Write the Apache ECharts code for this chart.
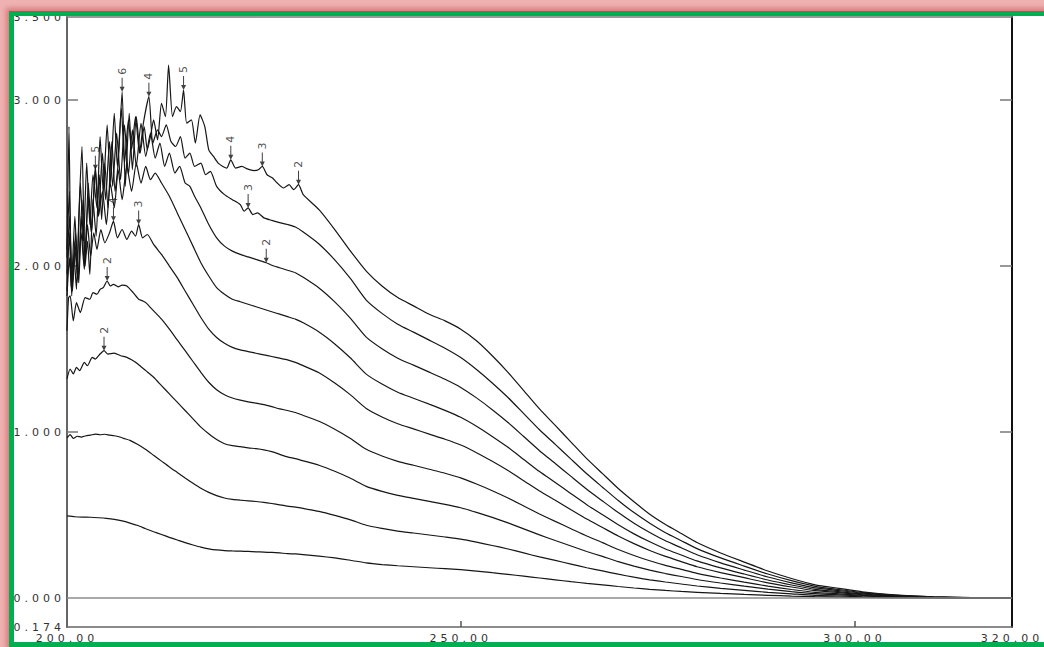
<!DOCTYPE html>
<html>
<head>
<meta charset="utf-8">
<script src="https://cdn.jsdelivr.net/npm/echarts@6.0.0/dist/echarts.min.js"></script>
<style>
  html, body { margin: 0; padding: 0; background: #ffffff; overflow: hidden; }
  #wrap { position: relative; width: 1044px; height: 647px; overflow: hidden; background: #ffffff; }
  #chart { position: absolute; left: 0; top: 0; width: 1044px; height: 647px; }
  #chart svg text { letter-spacing: 4px; }
  #frame {
    position: absolute; left: 9px; top: 11px; width: 1100px; height: 636px;
    box-sizing: border-box; border: 5px solid #00b050; pointer-events: none; z-index: 10;
    box-shadow: 0 0 5px 3px rgba(205, 95, 95, 0.65), 0 0 0 60px #efb2b2;
  }
</style>
</head>
<body>
<div id="wrap">
  <div id="chart"></div>
  <div id="frame"></div>
</div>
<script>
// ---- tick labels ----
const xTickLabels = [200, 250, 300, 320];
const xTickMarks = [250, 300];
const yTickLabels = [-0.174, 0, 1, 2, 3, 3.5];
const yTickMarks = [1, 2, 3];

// ---- shared wavelength grid for the smooth long-wavelength part (nm) ----
const wlTail = [230, 232, 234, 236, 238, 240, 242, 244, 246, 248, 250, 252, 254, 256, 258, 260, 262, 264, 266, 268, 270, 272, 274, 276, 278, 280, 283, 286, 289, 292, 295, 298, 301, 305, 310, 315, 320];

// ---- absorbance of each spectrum on wlTail ----
const tail1 = [0.262, 0.253, 0.242, 0.228, 0.212, 0.202, 0.195, 0.189, 0.183, 0.177, 0.171, 0.163, 0.153, 0.143, 0.132, 0.121, 0.110, 0.099, 0.089, 0.080, 0.070, 0.061, 0.053, 0.046, 0.040, 0.035, 0.028, 0.022, 0.017, 0.012, 0.0085, 0.006, 0.004, 0.002, 0.0008, 0.0003, 0];
const tail2 = [0.540, 0.522, 0.498, 0.471, 0.439, 0.420, 0.404, 0.392, 0.380, 0.368, 0.355, 0.337, 0.317, 0.296, 0.272, 0.248, 0.227, 0.205, 0.183, 0.164, 0.144, 0.126, 0.110, 0.097, 0.085, 0.073, 0.059, 0.047, 0.035, 0.026, 0.017, 0.0128, 0.0083, 0.0043, 0.0018, 0.0006, 0];
const tail3 = [0.827, 0.800, 0.764, 0.722, 0.673, 0.643, 0.619, 0.601, 0.583, 0.565, 0.544, 0.516, 0.486, 0.453, 0.417, 0.381, 0.347, 0.314, 0.281, 0.251, 0.220, 0.193, 0.169, 0.148, 0.130, 0.112, 0.091, 0.072, 0.054, 0.039, 0.027, 0.0196, 0.0127, 0.0066, 0.0027, 0.0009, 0];
const tail4 = [1.100, 1.065, 1.017, 0.961, 0.896, 0.856, 0.824, 0.800, 0.776, 0.752, 0.724, 0.687, 0.647, 0.603, 0.555, 0.507, 0.462, 0.418, 0.374, 0.334, 0.293, 0.257, 0.225, 0.197, 0.173, 0.149, 0.121, 0.096, 0.072, 0.052, 0.035, 0.026, 0.017, 0.0088, 0.0036, 0.0012, 0];
const tail5 = [1.400, 1.357, 1.295, 1.224, 1.142, 1.091, 1.050, 1.019, 0.988, 0.957, 0.922, 0.876, 0.824, 0.768, 0.707, 0.645, 0.589, 0.532, 0.476, 0.425, 0.374, 0.328, 0.287, 0.251, 0.220, 0.189, 0.154, 0.123, 0.092, 0.067, 0.045, 0.033, 0.0215, 0.0113, 0.0046, 0.0015, 0];
const tail6 = [1.658, 1.603, 1.531, 1.446, 1.349, 1.289, 1.240, 1.204, 1.168, 1.131, 1.089, 1.035, 0.974, 0.908, 0.835, 0.762, 0.696, 0.629, 0.563, 0.502, 0.442, 0.387, 0.339, 0.296, 0.260, 0.224, 0.182, 0.145, 0.109, 0.079, 0.053, 0.039, 0.0254, 0.0133, 0.0054, 0.0018, 0];
const tail7 = [1.932, 1.868, 1.784, 1.685, 1.572, 1.502, 1.445, 1.403, 1.361, 1.318, 1.269, 1.206, 1.135, 1.058, 0.973, 0.888, 0.811, 0.733, 0.656, 0.585, 0.515, 0.451, 0.395, 0.345, 0.303, 0.261, 0.212, 0.169, 0.127, 0.092, 0.062, 0.046, 0.0296, 0.0155, 0.0063, 0.0021, 0];
const tail8 = [2.205, 2.133, 2.037, 1.924, 1.795, 1.715, 1.650, 1.602, 1.554, 1.505, 1.449, 1.377, 1.296, 1.208, 1.111, 1.014, 0.926, 0.837, 0.749, 0.668, 0.588, 0.515, 0.451, 0.394, 0.346, 0.298, 0.242, 0.193, 0.145, 0.105, 0.071, 0.052, 0.0338, 0.0177, 0.0072, 0.0024, 0];
const tail9 = [2.430, 2.340, 2.220, 2.090, 1.970, 1.880, 1.810, 1.760, 1.710, 1.670, 1.620, 1.550, 1.460, 1.360, 1.250, 1.140, 1.040, 0.940, 0.840, 0.750, 0.660, 0.580, 0.505, 0.443, 0.389, 0.335, 0.272, 0.217, 0.163, 0.118, 0.080, 0.059, 0.038, 0.020, 0.0081, 0.0027, 0];

// ---- short-wavelength part of each spectrum, [nm, absorbance] ----
const head1 = [[200,0.495],[201,0.490],[202,0.488],[203,0.487],[204,0.484],[205,0.480],[206,0.474],[207,0.465],[208,0.452],[209,0.437],[210,0.418],[211,0.400],[212,0.383],[213,0.366],[214,0.350],[215,0.334],[216,0.320],[217,0.307],[218,0.297],[219,0.290],[220,0.286],[221,0.284],[222,0.283],[223,0.281],[224,0.279],[225,0.277],[226,0.275],[227,0.272],[228,0.268],[229,0.266]];
const head2 = [[200,0.965],[200.4,0.985],[200.8,0.962],[201.3,0.975],[201.8,0.970],[202.4,0.978],[203,0.982],[203.6,0.988],[204.2,0.984],[204.8,0.987],[205.4,0.982],[206,0.978],[206.6,0.972],[207.2,0.962],[208,0.950],[209,0.925],[210,0.895],[211,0.860],[212,0.825],[213,0.790],[214,0.757],[215,0.724],[216,0.692],[217,0.662],[218,0.637],[219,0.617],[220,0.603],[221,0.595],[222,0.590],[223,0.586],[224,0.582],[225,0.577],[226,0.570],[227,0.562],[228,0.554],[229,0.548]];
const head3 = [[200,1.32],[200.4,1.38],[200.8,1.35],[201.2,1.39],[201.6,1.37],[202.2,1.42],[202.6,1.40],[203.2,1.45],[203.6,1.44],[204.2,1.47],[204.7,1.49],[205.2,1.47],[206,1.475],[206.8,1.46],[207.6,1.45],[208.2,1.435],[209,1.41],[210,1.37],[211,1.33],[212,1.28],[213,1.23],[214,1.18],[215,1.13],[216,1.08],[217,1.03],[218,0.99],[219,0.955],[220,0.93],[221,0.918],[222,0.912],[223,0.905],[224,0.90],[225,0.893],[226,0.882],[227,0.866],[228,0.851],[229,0.84]];
const head4 = [[200,1.61],[200.2,1.81],[200.4,1.82],[200.8,1.67],[201.2,1.78],[201.7,1.72],[202.3,1.81],[202.9,1.80],[203.3,1.84],[203.8,1.83],[204.2,1.86],[204.6,1.87],[205.1,1.91],[205.5,1.88],[205.9,1.89],[206.5,1.875],[207,1.885],[207.6,1.88],[208.4,1.84],[209.1,1.80],[209.6,1.79],[210,1.78],[211,1.73],[212,1.68],[213,1.62],[214,1.555],[215,1.49],[216,1.425],[217,1.36],[218,1.30],[219,1.255],[220,1.225],[221,1.205],[222,1.192],[223,1.182],[224,1.174],[225,1.165],[226,1.153],[227,1.14],[228,1.13],[229,1.118]];
const head5 = [[200,1.82],[200.3,2.05],[200.6,1.85],[201,2.10],[201.4,1.92],[201.8,2.20],[202.2,1.98],[202.6,2.25],[203,2.06],[203.4,2.20],[203.8,2.10],[204.3,2.22],[204.8,2.14],[205.4,2.20],[205.9,2.27],[206.4,2.17],[207,2.22],[207.6,2.16],[208.2,2.21],[208.7,2.18],[209.1,2.25],[209.6,2.17],[210.2,2.19],[211,2.13],[212,2.07],[213,2.00],[214,1.93],[215,1.85],[216,1.77],[217,1.69],[218,1.62],[219,1.57],[220,1.535],[221,1.51],[222,1.495],[223,1.485],[224,1.475],[225,1.465],[226,1.455],[227,1.445],[228,1.435],[229,1.42]];
const head6 = [[200,1.85],[200.3,2.20],[200.6,1.82],[201,2.15],[201.4,1.90],[201.8,2.30],[202.2,2.00],[202.7,2.40],[203.1,2.20],[203.6,2.58],[204,2.30],[204.5,2.45],[205,2.25],[205.5,2.50],[206,2.35],[206.5,2.58],[207,2.40],[207.6,2.60],[208.2,2.45],[208.8,2.62],[209.4,2.50],[210,2.60],[210.6,2.52],[211.2,2.56],[212,2.50],[213,2.42],[214,2.32],[215,2.22],[216,2.12],[217,2.02],[218,1.94],[219,1.87],[220,1.83],[221,1.80],[222,1.785],[223,1.77],[224,1.755],[225,1.74],[226,1.725],[227,1.71],[228,1.695],[229,1.68]];
const head7 = [[200,1.95],[200.3,2.30],[200.7,1.85],[201.1,2.20],[201.5,1.90],[201.9,2.40],[202.3,2.05],[202.7,2.50],[203.1,2.20],[203.6,2.60],[204,2.30],[204.5,2.68],[204.9,2.40],[205.4,2.75],[205.8,2.48],[206.3,2.80],[206.8,2.52],[207.3,2.85],[207.8,2.55],[208.3,2.82],[208.8,2.60],[209.4,2.86],[210,2.66],[210.6,2.80],[211.2,2.65],[211.8,2.74],[212.4,2.60],[213,2.68],[213.7,2.56],[214.3,2.60],[215,2.50],[215.6,2.48],[216.2,2.42],[217,2.35],[218,2.25],[219,2.17],[220,2.12],[221,2.09],[222,2.07],[223,2.055],[224,2.04],[224.7,2.03],[225.3,2.02],[226,2.005],[227,1.99],[228,1.975],[229,1.96]];
const head8 = [[200,2.10],[200.3,2.45],[200.6,1.92],[201,2.30],[201.3,2.00],[201.7,2.50],[202.1,2.15],[202.5,2.62],[202.9,2.25],[203.3,2.55],[203.8,2.35],[204.2,2.78],[204.6,2.45],[205.1,2.85],[205.5,2.50],[206,2.92],[206.4,2.60],[206.9,2.95],[207.3,2.62],[207.8,2.88],[208.2,2.70],[208.7,2.90],[209.2,2.68],[209.7,2.86],[210.4,3.02],[210.9,2.74],[211.5,2.82],[212,2.78],[212.6,2.85],[213.2,2.75],[213.8,2.72],[214.4,2.78],[215,2.65],[215.6,2.68],[216.2,2.60],[217,2.62],[217.6,2.55],[218.2,2.57],[219,2.48],[220,2.43],[221,2.40],[222,2.37],[222.5,2.33],[223,2.35],[223.6,2.31],[224.2,2.32],[225,2.29],[226,2.275],[227,2.262],[228,2.25],[229,2.235]];
const head9 = [[200,2.05],[200.25,2.84],[200.55,1.88],[200.9,2.05],[201.2,1.86],[201.5,2.30],[201.9,2.72],[202.3,2.00],[202.6,2.15],[202.9,1.95],[203.3,2.40],[203.7,2.18],[204.1,2.55],[204.4,2.28],[204.8,2.62],[205.2,2.35],[205.7,2.75],[206.1,2.45],[206.5,2.62],[207,3.05],[207.4,2.48],[207.9,2.92],[208.3,2.58],[208.8,2.90],[209.3,2.68],[209.8,2.84],[210.2,2.70],[210.6,2.78],[211,2.88],[211.5,2.76],[212,2.98],[212.5,2.90],[212.9,3.21],[213.4,2.90],[213.9,2.96],[214.4,2.93],[214.8,3.06],[215.2,2.86],[215.8,2.88],[216.3,2.74],[216.9,2.91],[217.5,2.84],[218,2.70],[218.6,2.66],[219.2,2.62],[219.8,2.60],[220.3,2.59],[220.8,2.64],[221.4,2.59],[222.2,2.60],[222.9,2.585],[223.7,2.575],[224.3,2.58],[224.8,2.60],[225.4,2.55],[226.1,2.53],[226.7,2.50],[227.5,2.47],[228.2,2.49],[228.8,2.46],[229.4,2.49]];

// ---- peak markers ----
const peakWl  = [207.0, 210.4, 214.8, 220.8, 224.8, 229.4, 223.0, 225.3, 203.6, 205.9, 209.1, 205.1, 204.7];
const peakAbs = [3.05, 3.02, 3.06, 2.64, 2.60, 2.49, 2.35, 2.02, 2.58, 2.27, 2.25, 1.91, 1.49];
const peakNum = ['6', '4', '5', '4', '3', '2', '3', '2', '5', '4', '3', '2', '2'];

const heads = [head1, head2, head3, head4, head5, head6, head7, head8, head9];
const tails = [tail1, tail2, tail3, tail4, tail5, tail6, tail7, tail8, tail9];

const chart = echarts.init(document.getElementById('chart'), null, { renderer: 'svg', width: 1044, height: 647 });

const font = 'DejaVu Sans';
const series = heads.map((h, i) => {
  const s = {
    type: 'line',
    data: h.concat(wlTail.map((w, j) => [w, tails[i][j]])),
    showSymbol: false,
    smooth: 0.2,
    silent: true,
    z: 3,
    lineStyle: { color: '#161616', width: 1.2 }
  };
  if (i === 0) {
    s.markLine = {
      silent: true, symbol: 'none', label: { show: false },
      lineStyle: { color: '#8c8c8c', width: 1.6, type: 'solid' },
      data: [{ yAxis: 0 }]
    };
  }
  return s;
});

series.push({
  type: 'scatter',
  z: 5,
  silent: true,
  data: peakWl.map((w, i) => ({ value: [w, peakAbs[i]], name: peakNum[i] })),
  symbol: 'path://M4,0 L6,0 L6,18 L10,18 L5,28 L0,18 L4,18 Z',
  symbolSize: [5, 14],
  symbolOffset: [0, '-50%'],
  itemStyle: { color: '#111' },
  label: {
    show: true, position: 'top', distance: 3, rotate: 90,
    align: 'left', verticalAlign: 'middle',
    formatter: p => p.name, color: '#222', fontFamily: font, fontSize: 11
  }
});

const axisLabelStyle = { color: '#333', fontFamily: font, fontSize: 11, lineHeight: 10 };

chart.setOption({
  animation: false,
  backgroundColor: '#ffffff',
  grid: { left: 67, right: 32, top: 17, bottom: 20, containLabel: false },
  xAxis: [
    {
      type: 'value', min: 200, max: 320, position: 'bottom',
      axisLine: { show: true, onZero: false, lineStyle: { color: '#666', width: 1.6 } },
      axisTick: { show: true, inside: true, length: 6, customValues: xTickMarks, lineStyle: { color: '#555', width: 1.5 } },
      axisLabel: Object.assign({ customValues: xTickLabels, formatter: v => Number(v).toFixed(2), margin: 6 }, axisLabelStyle),
      splitLine: { show: false }
    },
    {
      type: 'value', min: 200, max: 320, position: 'top',
      axisLine: { show: true, onZero: false, lineStyle: { color: '#777', width: 1.6 } },
      axisTick: { show: false }, axisLabel: { show: false }, splitLine: { show: false }
    }
  ],
  yAxis: [
    {
      type: 'value', min: -0.174, max: 3.5, position: 'left',
      axisLine: { show: true, onZero: false, lineStyle: { color: '#666', width: 2 } },
      axisTick: { show: true, inside: true, length: 11, customValues: yTickMarks, lineStyle: { color: '#777', width: 1.5 } },
      axisLabel: Object.assign({ customValues: yTickLabels, formatter: v => Number(v).toFixed(3), margin: 2 }, axisLabelStyle),
      splitLine: { show: false }
    },
    {
      type: 'value', min: -0.174, max: 3.5, position: 'right',
      axisLine: { show: true, onZero: false, lineStyle: { color: '#111', width: 2 } },
      axisTick: { show: true, inside: true, length: 12, customValues: yTickMarks, lineStyle: { color: '#777', width: 1.5 } },
      axisLabel: { show: false }, splitLine: { show: false }
    }
  ],
  series: series
});
</script>
</body>
</html>
